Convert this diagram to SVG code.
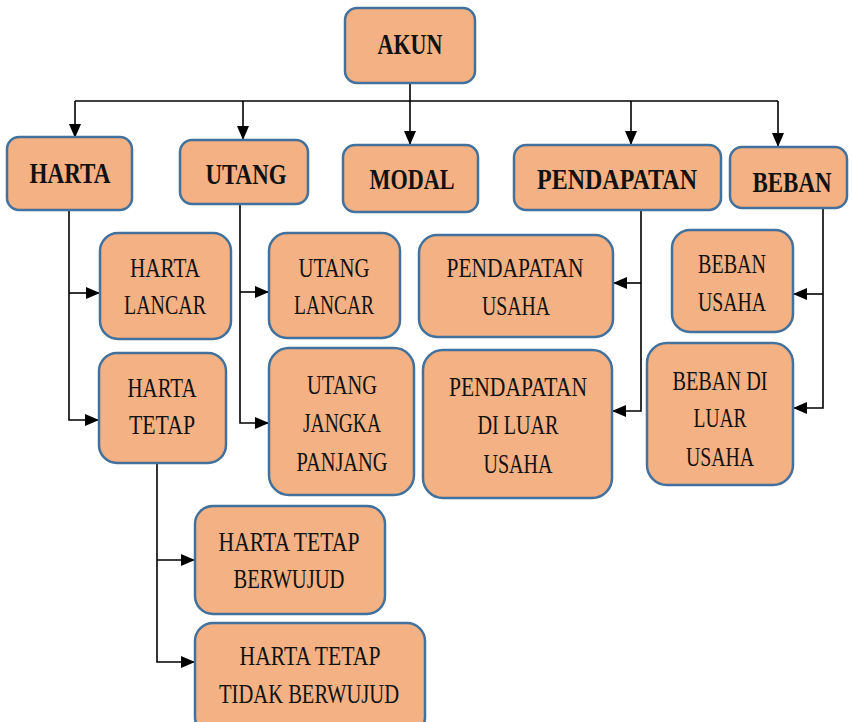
<svg xmlns="http://www.w3.org/2000/svg" width="852" height="722" viewBox="0 0 852 722">
<defs>
<marker id="arr" markerUnits="userSpaceOnUse" markerWidth="14" markerHeight="12" refX="14" refY="6" orient="auto">
<path d="M0,0 L14,6 L0,12 Z" fill="#000"/>
</marker>
<style>
.box{fill:#F4B183;stroke:#41719C;stroke-width:2.5}
.t1{font-family:"Liberation Serif",serif;font-weight:bold;font-size:30px;fill:#111;text-anchor:middle}
.t2{font-family:"Liberation Serif",serif;font-size:27px;fill:#111;text-anchor:middle}
.c{fill:none;stroke:#000;stroke-width:1.6}
</style>
</defs>
<rect width="852" height="722" fill="#fff"/>
<g id="connectors">
<path class="c" d="M410 83 V145" marker-end="url(#arr)"/>
<path class="c" d="M75 101 H778"/>
<path class="c" d="M75 101 V138" marker-end="url(#arr)"/>
<path class="c" d="M243 101 V140" marker-end="url(#arr)"/>
<path class="c" d="M631 101 V145" marker-end="url(#arr)"/>
<path class="c" d="M778 101 V147" marker-end="url(#arr)"/>
<path class="c" d="M69 210 V420 H99" marker-end="url(#arr)"/>
<path class="c" d="M69 293 H100" marker-end="url(#arr)"/>
<path class="c" d="M240 204 V423 H269" marker-end="url(#arr)"/>
<path class="c" d="M240 292 H269" marker-end="url(#arr)"/>
<path class="c" d="M157 463 V662 H195" marker-end="url(#arr)"/>
<path class="c" d="M157 560 H195" marker-end="url(#arr)"/>
<path class="c" d="M641 210 V411 H612" marker-end="url(#arr)"/>
<path class="c" d="M641 283 H613" marker-end="url(#arr)"/>
<path class="c" d="M823 208 V408 H793" marker-end="url(#arr)"/>
<path class="c" d="M823 294 H793" marker-end="url(#arr)"/>
</g>
<g id="akun"><rect class="box" x="345" y="8" width="130" height="75" rx="12"/><text class="t1" x="410" y="54" textLength="65" lengthAdjust="spacingAndGlyphs">AKUN</text></g>
<g id="harta"><rect class="box" x="7" y="137" width="125" height="73" rx="12"/><text class="t1" x="70" y="183" textLength="81" lengthAdjust="spacingAndGlyphs">HARTA</text></g>
<g id="utang"><rect class="box" x="180" y="140" width="128" height="64" rx="12"/><text class="t1" x="246" y="184" textLength="81" lengthAdjust="spacingAndGlyphs">UTANG</text></g>
<g id="modal"><rect class="box" x="343" y="145" width="135" height="67" rx="12"/><text class="t1" x="412" y="189" textLength="85" lengthAdjust="spacingAndGlyphs">MODAL</text></g>
<g id="pendapatan"><rect class="box" x="514" y="145" width="207" height="65" rx="12"/><text class="t1" x="617" y="189" textLength="160" lengthAdjust="spacingAndGlyphs">PENDAPATAN</text></g>
<g id="beban"><rect class="box" x="730" y="147" width="117" height="61" rx="12"/><text class="t1" x="792" y="192" textLength="79" lengthAdjust="spacingAndGlyphs">BEBAN</text></g>
<g id="harta-lancar"><rect class="box" x="100" y="233" width="131" height="106" rx="18"/>
<text class="t2" x="165" y="277" textLength="70" lengthAdjust="spacingAndGlyphs">HARTA</text>
<text class="t2" x="165" y="314" textLength="82" lengthAdjust="spacingAndGlyphs">LANCAR</text></g>
<g id="harta-tetap"><rect class="box" x="99" y="353" width="127" height="110" rx="18"/>
<text class="t2" x="162" y="397" textLength="69" lengthAdjust="spacingAndGlyphs">HARTA</text>
<text class="t2" x="162" y="434" textLength="66" lengthAdjust="spacingAndGlyphs">TETAP</text></g>
<g id="utang-lancar"><rect class="box" x="269" y="233" width="131" height="105" rx="18"/>
<text class="t2" x="334" y="277" textLength="71" lengthAdjust="spacingAndGlyphs">UTANG</text>
<text class="t2" x="334" y="314" textLength="80" lengthAdjust="spacingAndGlyphs">LANCAR</text></g>
<g id="utang-jangka-panjang"><rect class="box" x="269" y="348" width="145" height="147" rx="20"/>
<text class="t2" x="342" y="394" textLength="70" lengthAdjust="spacingAndGlyphs">UTANG</text>
<text class="t2" x="342" y="432" textLength="78" lengthAdjust="spacingAndGlyphs">JANGKA</text>
<text class="t2" x="342" y="471" textLength="91" lengthAdjust="spacingAndGlyphs">PANJANG</text></g>
<g id="harta-tetap-berwujud"><rect class="box" x="195" y="506" width="190" height="108" rx="18"/>
<text class="t2" x="289" y="551" textLength="141" lengthAdjust="spacingAndGlyphs">HARTA TETAP</text>
<text class="t2" x="289" y="588" textLength="111" lengthAdjust="spacingAndGlyphs">BERWUJUD</text></g>
<g id="harta-tetap-tidak-berwujud"><rect class="box" x="195" y="623" width="230" height="112" rx="18"/>
<text class="t2" x="310" y="665" textLength="141" lengthAdjust="spacingAndGlyphs">HARTA TETAP</text>
<text class="t2" x="309" y="703" textLength="180" lengthAdjust="spacingAndGlyphs">TIDAK BERWUJUD</text></g>
<g id="pendapatan-usaha"><rect class="box" x="419" y="235" width="194" height="102" rx="18"/>
<text class="t2" x="515" y="277" textLength="137" lengthAdjust="spacingAndGlyphs">PENDAPATAN</text>
<text class="t2" x="516" y="315" textLength="68" lengthAdjust="spacingAndGlyphs">USAHA</text></g>
<g id="pendapatan-di-luar-usaha"><rect class="box" x="423" y="350" width="189" height="148" rx="20"/>
<text class="t2" x="518" y="396" textLength="138" lengthAdjust="spacingAndGlyphs">PENDAPATAN</text>
<text class="t2" x="518" y="434" textLength="81" lengthAdjust="spacingAndGlyphs">DI LUAR</text>
<text class="t2" x="518" y="473" textLength="69" lengthAdjust="spacingAndGlyphs">USAHA</text></g>
<g id="beban-usaha"><rect class="box" x="672" y="230" width="121" height="102" rx="18"/>
<text class="t2" x="732" y="273" textLength="68" lengthAdjust="spacingAndGlyphs">BEBAN</text>
<text class="t2" x="732" y="311" textLength="68" lengthAdjust="spacingAndGlyphs">USAHA</text></g>
<g id="beban-di-luar-usaha"><rect class="box" x="647" y="343" width="146" height="142" rx="20"/>
<text class="t2" x="720" y="390" textLength="95" lengthAdjust="spacingAndGlyphs">BEBAN DI</text>
<text class="t2" x="720" y="427" textLength="53" lengthAdjust="spacingAndGlyphs">LUAR</text>
<text class="t2" x="720" y="466" textLength="68" lengthAdjust="spacingAndGlyphs">USAHA</text></g>
</svg>
